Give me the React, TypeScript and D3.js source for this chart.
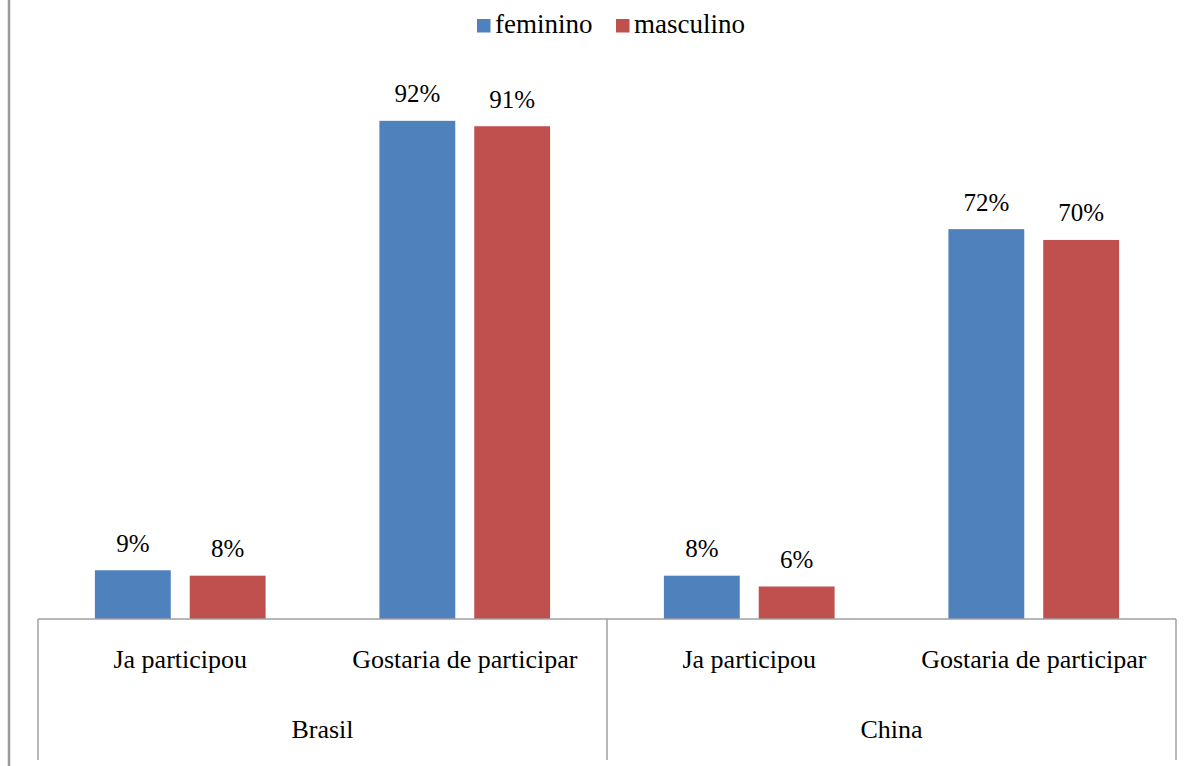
import React from "react";
import * as d3 from "d3";

const countries = ["Brasil", "China"];
const questions = ["Ja participou", "Gostaria de participar"];
const seriesNames = ["feminino", "masculino"];
const seriesColors = ["#4F81BD", "#C0504D"];
// values per country, per question: [feminino, masculino]
const brasilValues = [
  [9, 8],
  [92, 91],
];
const chinaValues = [
  [8, 6],
  [72, 70],
];

const W = 1192;
const H = 766;
const plotLeft = 38;
const plotRight = 1176;
const baseline = 619;
const FONT = '"Liberation Serif", "DejaVu Serif", "Times New Roman", Times, serif';
const textStyle: React.CSSProperties = { fontFamily: FONT };
const labelSize = 26;
const legendSize = 27;
const valueSize = 25;

export default function App() {
  const rows = [brasilValues, chinaValues];
  const cats: { country: string; question: string; values: number[] }[] = [];
  countries.forEach((c, ci) =>
    questions.forEach((q, qi) => cats.push({ country: c, question: q, values: rows[ci][qi] }))
  );

  const x0 = d3
    .scaleBand<number>()
    .domain(cats.map((_, i) => i))
    .range([plotLeft, plotRight])
    .paddingInner(0)
    .paddingOuter(0);
  const bw = x0.bandwidth();
  // bar width with gap-width 150% and overlap -25%
  const barW = bw / (2 + 0.25 + 1.5);
  const groupW = barW * 2.25;
  const y = d3.scaleLinear().domain([0, 100]).range([baseline, baseline - 541.5]);

  const countryScale = d3.scaleBand<string>().domain(countries).range([plotLeft, plotRight]);

  return (
    <svg
      width={W}
      height={H}
      style={{ position: "absolute", left: 0, top: 0, background: "#fff", fontFamily: FONT }}
    >
      <rect x={0} y={0} width={W} height={H} fill="#fff" />
      {/* outer chart border, left side */}
      <line x1={9} x2={9} y1={0} y2={H} stroke="#9a9a9a" strokeWidth={2.5} />

      {/* legend */}
      {seriesNames.map((s, i) => {
        const lx = i === 0 ? 477 : 616;
        return (
          <g key={s}>
            <rect x={lx} y={19} width={13.5} height={13.5} fill={seriesColors[i]} />
            <text x={lx + 18} y={33} fontSize={legendSize} fill="#000" style={textStyle}>
              {s}
            </text>
          </g>
        );
      })}

      {/* bars */}
      {cats.map((c, i) => {
        const gx = (x0(i) as number) + (bw - groupW) / 2;
        return (
          <g key={i}>
            {c.values.map((v, si) => {
              const bx = gx + si * barW * 1.25;
              const by = y(v);
              return (
                <g key={si}>
                  <rect
                    x={bx}
                    y={by}
                    width={barW}
                    height={baseline - by}
                    fill={seriesColors[si]}
                  />
                  <text
                    x={bx + barW / 2}
                    y={by - 18.5}
                    textAnchor="middle"
                    fontSize={valueSize}
                    fill="#000"
                    style={textStyle}
                  >
                    {v}%
                  </text>
                </g>
              );
            })}
            <text
              x={(x0(i) as number) + bw / 2}
              y={668}
              textAnchor="middle"
              fontSize={labelSize}
              fill="#000"
              style={textStyle}
            >
              {c.question}
            </text>
          </g>
        );
      })}

      {/* category axis */}
      <line x1={plotLeft} x2={plotRight} y1={baseline} y2={baseline} stroke="#a0a0a0" strokeWidth={1.5} />
      {[plotLeft, (plotLeft + plotRight) / 2, plotRight].map((lx, i) => (
        <line key={i} x1={lx} x2={lx} y1={baseline} y2={760} stroke="#a0a0a0" strokeWidth={1.5} />
      ))}
      {countries.map((c) => (
        <text
          key={c}
          x={(countryScale(c) as number) + countryScale.bandwidth() / 2}
          y={738}
          textAnchor="middle"
          fontSize={labelSize}
          fill="#000"
          style={textStyle}
        >
          {c}
        </text>
      ))}
    </svg>
  );
}
